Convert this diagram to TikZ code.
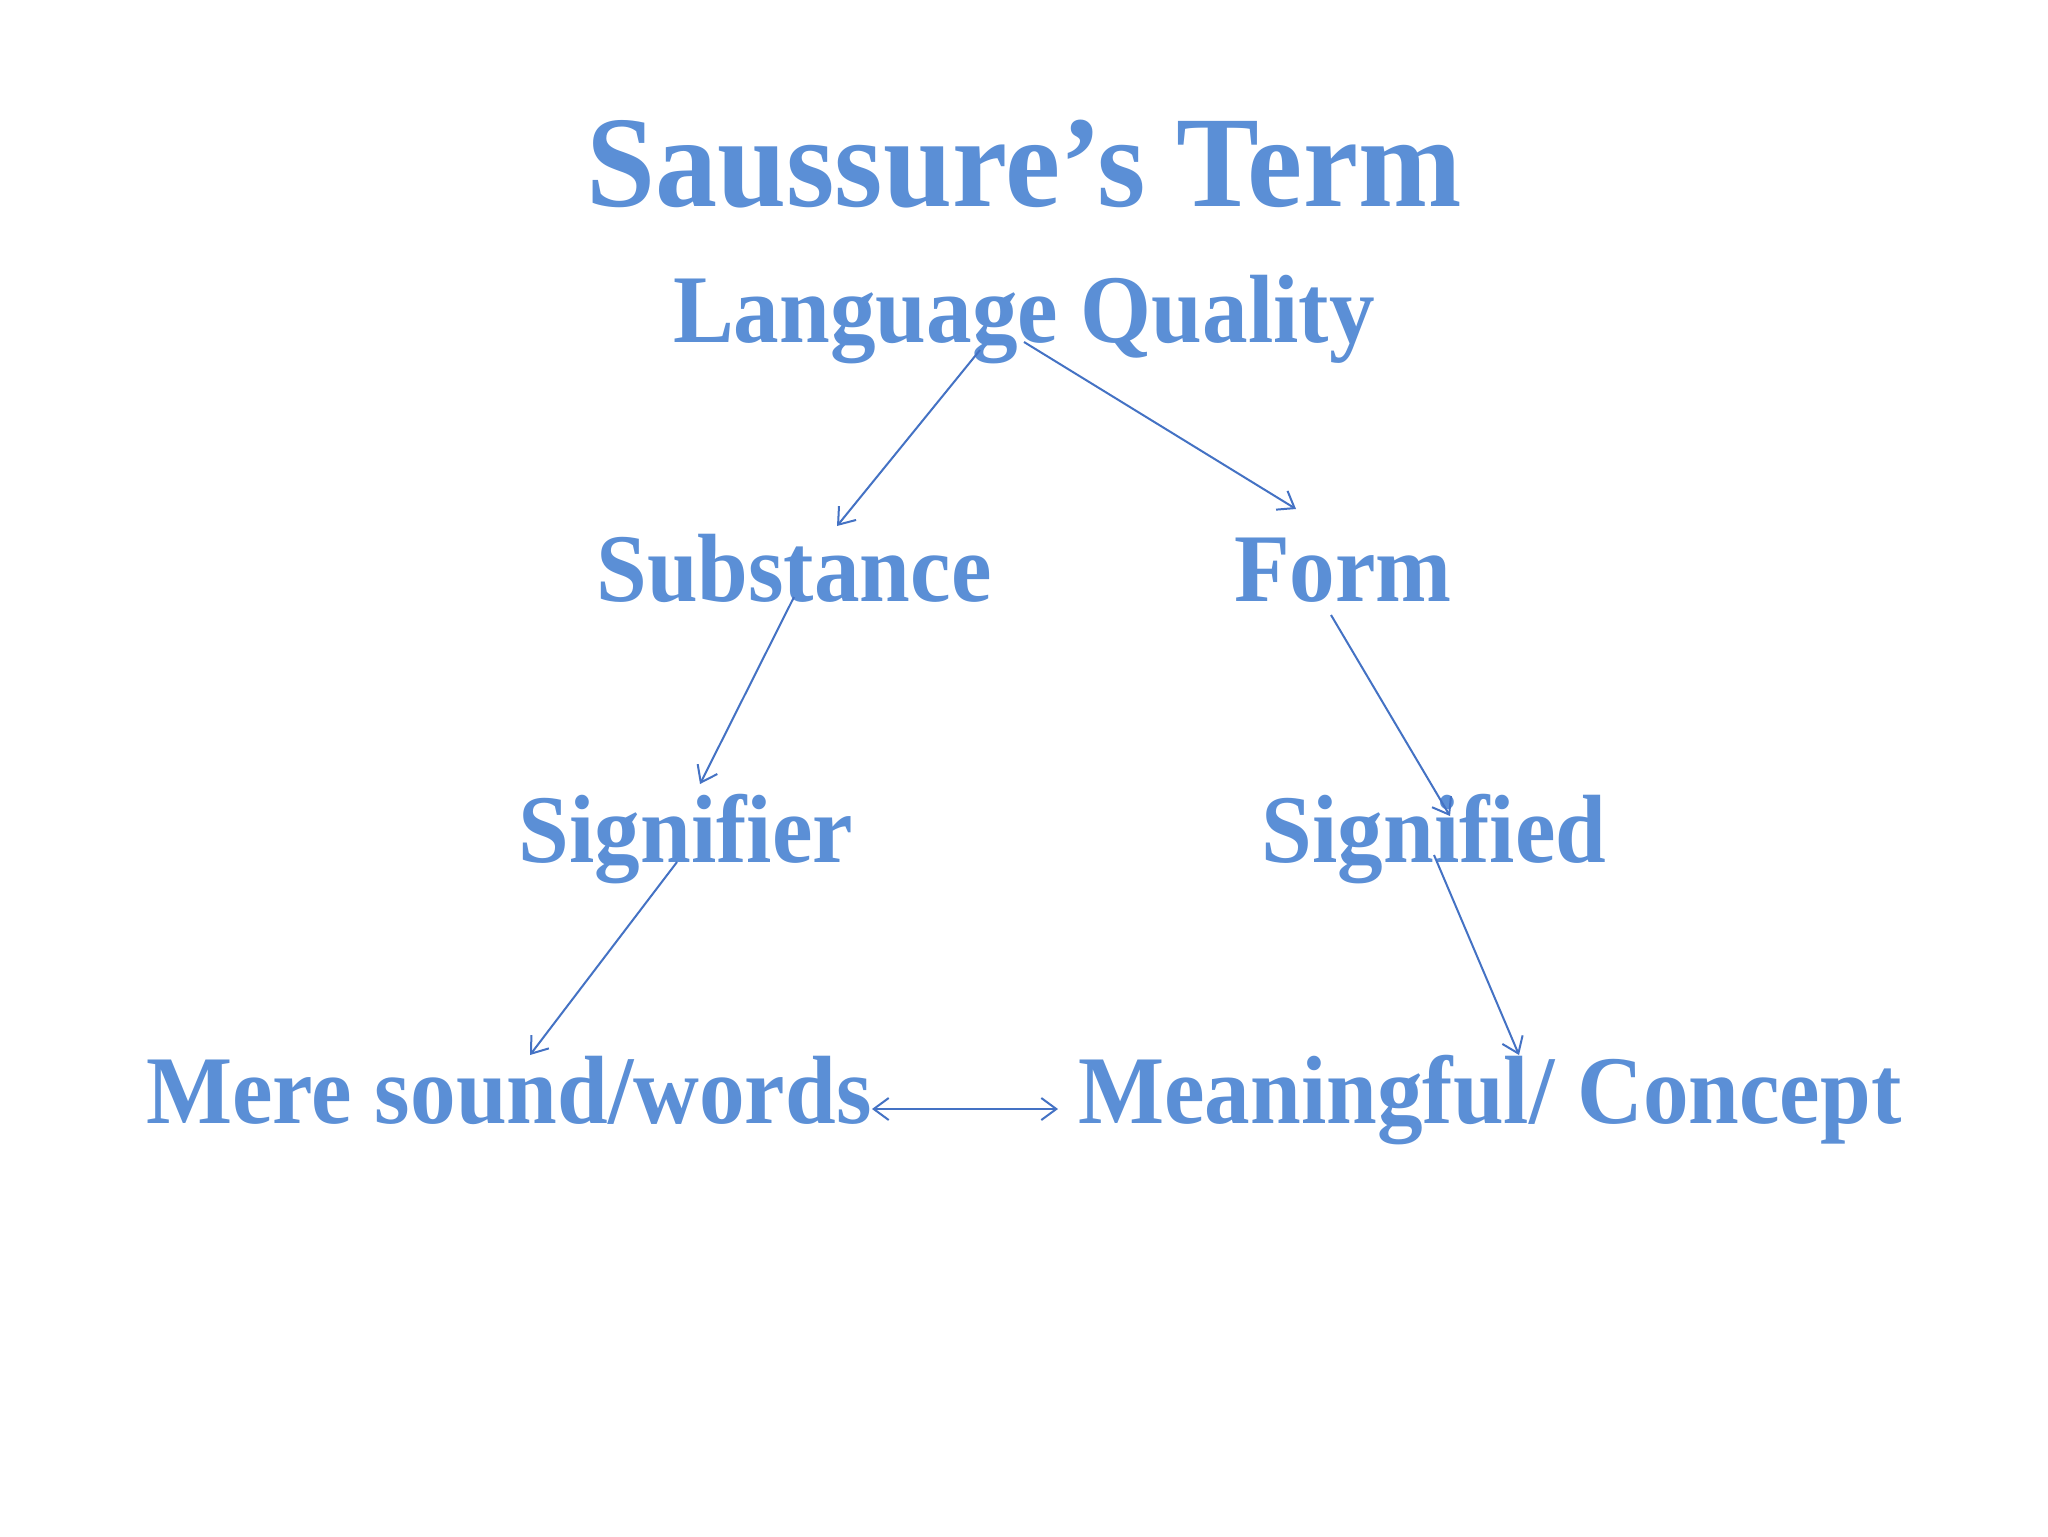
\documentclass[tikz,border=0pt]{standalone}
\usepackage{fontspec}
\setmainfont{Liberation Serif}
\newfontfamily\ttlfont[FakeStretch=0.955]{Liberation Serif}
\newfontfamily\lblfont[FakeStretch=0.94]{Liberation Serif}
\usetikzlibrary{arrows.meta}
\definecolor{txtblue}{HTML}{5B8FD6}
\definecolor{arrblue}{HTML}{4472C4}
\tikzset{
  lbl/.style={text=txtblue, font=\lblfont\bfseries\fontsize{48.5}{58}\selectfont, inner sep=0pt, anchor=base},
  ttl/.style={text=txtblue, font=\ttlfont\bfseries\fontsize{65}{78}\selectfont, inner sep=0pt, anchor=base},
  conn/.style={draw=arrblue, line width=1pt, -{Straight Barb[length=7.5pt,width=11pt,line width=1pt]}},
  dconn/.style={draw=arrblue, line width=1pt, {Straight Barb[length=7.5pt,width=11pt,line width=1pt]}-{Straight Barb[length=7.5pt,width=11pt,line width=1pt]}}
}
\begin{document}
\begin{tikzpicture}[x=0.5pt,y=-0.5pt]
\useasboundingbox[fill=white] (0,0) rectangle (2048,1536);
\node[ttl] (title) at (1024,206) {Saussure’s Term};
\node[lbl] (lq) at (1024,342) {Language Quality};
\node[lbl] (sub) at (794,601) {Substance};
\node[lbl] (form) at (1343,601) {Form};
\node[lbl] (sgr) at (686,862) {Signifier};
\node[lbl] (sgd) at (1434,862) {Signified};
\node[lbl] (mere) at (509,1123) {Mere sound/words};
\node[lbl] (mean) at (1490,1123) {Meaningful/ Concept};
% connector end points
\coordinate (lqL) at (980,350);
\coordinate (lqR) at (1024,342);
\coordinate (subT) at (837,526);
\coordinate (formT) at (1296,509);
\coordinate (subB) at (794,597);
\coordinate (sgrT) at (700,784);
\coordinate (formB) at (1331,615);
\coordinate (sgdT) at (1450,816);
\coordinate (sgrB) at (677,862);
\coordinate (mereT) at (530,1055);
\coordinate (sgdB) at (1434,855);
\coordinate (meanT) at (1519,1055);
\coordinate (mereR) at (872,1109);
\coordinate (meanL) at (1058,1109);
\draw[conn] (lqL) -- (subT);
\draw[conn] (lqR) -- (formT);
\draw[conn] (subB) -- (sgrT);
\draw[conn] (formB) -- (sgdT);
\draw[conn] (sgrB) -- (mereT);
\draw[conn] (sgdB) -- (meanT);
\draw[dconn] (mereR) -- (meanL);
\end{tikzpicture}
\end{document}
